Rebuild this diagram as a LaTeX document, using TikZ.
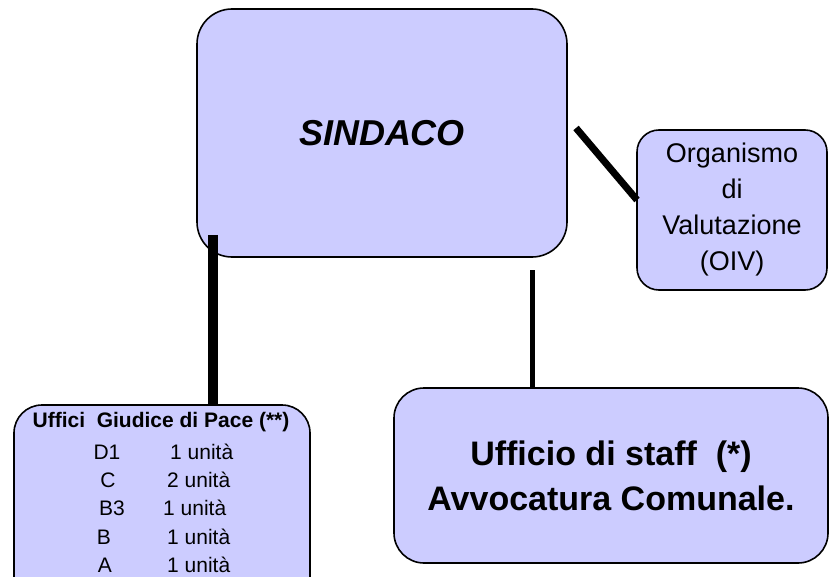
\documentclass[tikz,border=0pt]{standalone}
\usepackage{fontspec}
\setmainfont{Liberation Sans}
\definecolor{boxfill}{HTML}{CCCCFF}
\begin{document}
\begin{tikzpicture}[x=1pt,y=-1pt,
  orgbox/.style={draw=black,line width=1.6pt,fill=boxfill,rounded corners=#1,inner sep=0pt},
  conn/.style={draw=black,line width=#1}]
\useasboundingbox (0,0) rectangle (829,577);
\clip (0,0) rectangle (829,577);
% boxes
\node[orgbox=35pt,minimum width=370pt,minimum height=248pt,
  font=\fontsize{36}{40}\selectfont\bfseries\itshape] (sindaco) at (382,133) {SINDACO};
\node[orgbox=22pt,minimum width=190pt,minimum height=160pt,align=center,
  font=\fontsize{27}{36}\selectfont] (oiv) at (732,210)
  {Organismo\\di\\Valutazione\\(OIV)};
\node[orgbox=28pt,minimum width=296pt,minimum height=200pt] (gdp) at (162,505) {};
\node[orgbox=30pt,minimum width=434pt,minimum height=175pt,align=center,
  font=\fontsize{34}{45}\selectfont\bfseries] (staff) at (611,475.5)
  {Ufficio di staff\ \ (*)\\Avvocatura Comunale.};
% texts in the Giudice di Pace box
\tikzset{gtxt/.style={font=\fontsize{21}{24}\selectfont,inner sep=0pt}}
\node[font=\fontsize{21}{24}\selectfont\bfseries,inner sep=0pt] (gtitle) at (161,422) {Uffici\ \ Giudice\ di\ Pace (**)};
\node[gtxt] (r1a) at (107,452) {D1};
\node[gtxt,anchor=west] (r1b) at (170,452) {1 unità};
\node[gtxt] (r2a) at (108,480) {C};
\node[gtxt,anchor=west] (r2b) at (167,480) {2 unità};
\node[gtxt] (r3a) at (112,508) {B3};
\node[gtxt,anchor=west] (r3b) at (163,508) {1 unità};
\node[gtxt] (r4a) at (104,537) {B};
\node[gtxt,anchor=west] (r4b) at (167,537) {1 unità};
\node[gtxt] (r5a) at (105,565) {A};
\node[gtxt,anchor=west] (r5b) at (167,565) {1 unità};
% connectors
\coordinate (c1) at (213,235);
\coordinate (c2) at (532,270);
\coordinate (c3) at (576,128);
\coordinate (c4) at (637,200);
\draw[conn=10pt] (c1) -- (c1 |- gdp.north);
\draw[conn=5pt] (c2) -- (c2 |- staff.north);
\draw[conn=7pt] (c3) -- (c4);
\end{tikzpicture}
\end{document}
